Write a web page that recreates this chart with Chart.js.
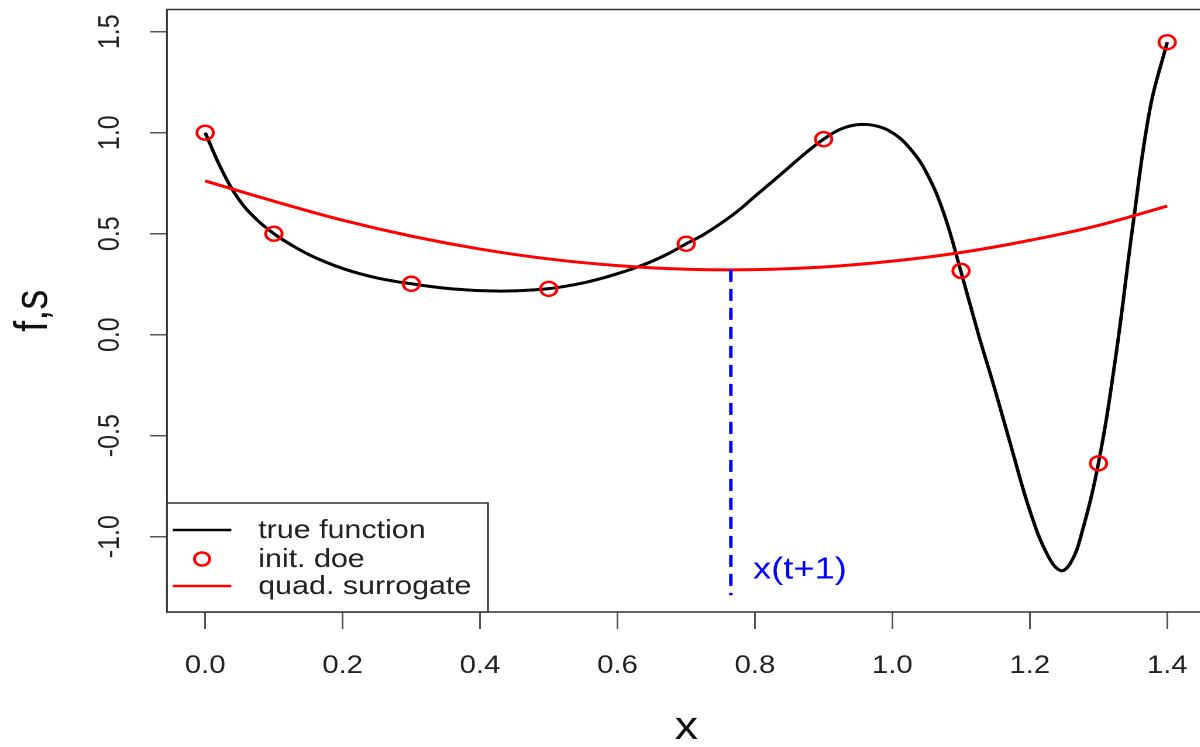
<!DOCTYPE html>
<html>
<head>
<meta charset="utf-8">
<script src="https://cdn.jsdelivr.net/npm/chart.js@4"></script>
<style>
    html, body { margin: 0; padding: 0; background: #fff; overflow: hidden; width: 1200px; height: 747px; }
    /* the reference is stretched horizontally, so the canvas is too */
    #wrap { position: absolute; left: 0; top: 0; width: 1040px; height: 747px; transform: scaleX(1.17); transform-origin: 0 0; }
</style>
</head>
<body>
<div id="wrap"><canvas id="chart"></canvas></div>
<script>
// True function
const trueX = [0, 0.025, 0.05, 0.075, 0.1, 0.125, 0.15, 0.175, 0.2, 0.225, 0.25, 0.275, 0.3, 0.325, 0.35, 0.375, 0.4,
    0.425, 0.45, 0.475, 0.5, 0.525, 0.55, 0.575, 0.6, 0.625, 0.65, 0.675, 0.7, 0.725, 0.75, 0.775, 0.8, 0.825, 0.85,
    0.875, 0.9, 0.925, 0.95, 0.975, 1.0, 1.025, 1.05, 1.075, 1.1, 1.125, 1.15, 1.175, 1.2, 1.225, 1.245, 1.26, 1.275,
    1.3, 1.325, 1.35, 1.375, 1.4];
const trueY = [1.0, 0.81, 0.665, 0.57, 0.5, 0.445, 0.398, 0.36, 0.328, 0.302, 0.281, 0.265, 0.252, 0.24, 0.23, 0.223, 0.218,
    0.216, 0.217, 0.221, 0.228, 0.24, 0.256, 0.277, 0.302, 0.33, 0.363, 0.403, 0.45, 0.495, 0.55, 0.612, 0.685, 0.757, 0.83,
    0.903, 0.968, 1.018, 1.04, 1.035, 1.0, 0.925, 0.8, 0.6, 0.31, 0.005, -0.28, -0.58, -0.87, -1.085, -1.168, -1.126, -0.99,
    -0.635, -0.11, 0.54, 1.12, 1.448];

// Initial design points
const doeX = [0, 0.1, 0.3, 0.5, 0.7, 0.9, 1.1, 1.3, 1.4];
const doeY = [1.0, 0.5, 0.252, 0.227, 0.45, 0.968, 0.316, -0.637, 1.448];

// Quadratic surrogate
const surX = [0, 0.1, 0.2, 0.3, 0.4, 0.5, 0.6, 0.7, 0.8, 0.9, 1.0, 1.1, 1.2, 1.3, 1.4];
const surY = [0.761, 0.661, 0.567, 0.488, 0.424, 0.375, 0.342, 0.324, 0.322, 0.335, 0.364, 0.407, 0.467, 0.541, 0.637];

// Next point x(t+1)
const nextX = [0.765, 0.765];
const nextY = [0.321, -1.29];
const nextLabel = 'x(t+1)';
const nextLabelY = -1.166;

const xTicks = [0, 0.2, 0.4, 0.6, 0.8, 1.0, 1.2, 1.4];
const yTicks = [-1.0, -0.5, 0.0, 0.5, 1.0, 1.5];

const legendLabels = ['true function', 'init. doe', 'quad. surrogate'];

const toPoints = (xs, ys) => xs.map((x, i) => ({x: x, y: ys[i]}));

const FONT = 'Liberation Sans, Arial, Helvetica, sans-serif';

// Box around the plot region
const boxPlugin = {
    id: 'box',
    afterDatasetsDraw(chart) {
        const {ctx, chartArea: a} = chart;
        ctx.save();
        ctx.strokeStyle = '#333';
        ctx.lineWidth = 1.5;
        ctx.strokeRect(a.left, a.top, a.right - a.left, a.bottom - a.top);
        ctx.restore();
    }
};

// Blue text next to the dashed line
const nextLabelPlugin = {
    id: 'nextLabel',
    afterDatasetsDraw(chart) {
        const {ctx, scales} = chart;
        ctx.save();
        ctx.fillStyle = '#0000ff';
        ctx.font = '31px ' + FONT;
        ctx.textBaseline = 'middle';
        ctx.textAlign = 'left';
        ctx.fillText(nextLabel, scales.x.getPixelForValue(nextX[0]) + 19, scales.y.getPixelForValue(nextLabelY));
        ctx.restore();
    }
};

// R style legend at the bottom left corner
const legendPlugin = {
    id: 'rLegend',
    afterDraw(chart) {
        const {ctx, chartArea: a} = chart;
        const left = a.left, bottom = a.bottom;
        const w = 274.4, h = 109;
        ctx.save();
        ctx.fillStyle = '#fff';
        ctx.fillRect(left, bottom - h, w, h);
        ctx.strokeStyle = '#333';
        ctx.lineWidth = 1.5;
        ctx.strokeRect(left, bottom - h, w, h);

        const rows = [bottom - 82, bottom - 53, bottom - 26];
        // black line
        ctx.strokeStyle = '#000';
        ctx.lineWidth = 2.5;
        ctx.beginPath(); ctx.moveTo(left + 5, rows[0]); ctx.lineTo(left + 55, rows[0]); ctx.stroke();
        // red circle
        ctx.strokeStyle = '#ff0000';
        ctx.beginPath(); ctx.arc(left + 30, rows[1], 6.5, 0, Math.PI * 2); ctx.stroke();
        // red line
        ctx.beginPath(); ctx.moveTo(left + 5, rows[2]); ctx.lineTo(left + 55, rows[2]); ctx.stroke();

        ctx.fillStyle = '#222';
        ctx.font = '26px ' + FONT;
        ctx.textBaseline = 'middle';
        ctx.textAlign = 'left';
        for (let i = 0; i < legendLabels.length; i++) {
            ctx.fillText(legendLabels[i], left + 78, rows[i] + 1);
        }
        ctx.restore();
    }
};

const ctx = document.getElementById('chart').getContext('2d');

const chart = new Chart(ctx, {
    type: 'scatter',
    data: {
        datasets: [
            {
                label: 'true function',
                data: toPoints(trueX, trueY),
                showLine: true,
                borderColor: '#000',
                borderWidth: 3,
                pointRadius: 0,
                tension: 0.4,
                order: 3
            },
            {
                label: 'quad. surrogate',
                data: toPoints(surX, surY),
                showLine: true,
                borderColor: '#ff0000',
                borderWidth: 3,
                pointRadius: 0,
                tension: 0.4,
                order: 2
            },
            {
                label: 'x(t+1)',
                data: toPoints(nextX, nextY),
                showLine: true,
                borderColor: '#0000ff',
                borderWidth: 3,
                borderDash: [12, 7],
                pointRadius: 0,
                order: 1
            },
            {
                label: 'init. doe',
                data: toPoints(doeX, doeY),
                showLine: false,
                pointStyle: 'circle',
                pointRadius: 7,
                pointBorderWidth: 2.5,
                pointBorderColor: '#ff0000',
                pointBackgroundColor: 'rgba(0,0,0,0)',
                order: 0
            }
        ]
    },
    options: {
        responsive: true,
        maintainAspectRatio: false,
        animation: false,
        devicePixelRatio: 2,
        layout: {
            padding: {left: 0, right: 4, top: 8, bottom: 0}
        },
        plugins: {
            legend: {display: false},
            tooltip: {enabled: false}
        },
        scales: {
            x: {
                type: 'linear',
                min: -0.0556,
                max: 1.456,
                afterBuildTicks: (scale) => { scale.ticks = xTicks.map(v => ({value: v})); },
                afterFit: (scale) => {
                    scale.height = 135;
                    scale.paddingLeft = 0;
                    scale.paddingRight = 0;
                },
                border: {display: false},
                grid: {
                    drawOnChartArea: false,
                    drawTicks: true,
                    tickLength: 17,
                    color: '#555',
                    lineWidth: 1.5
                },
                ticks: {
                    color: '#222',
                    font: {family: FONT, size: 25},
                    padding: 22,
                    maxRotation: 0,
                    autoSkip: false,
                    callback: (v) => Number(v).toFixed(1)
                },
                title: {
                    display: true,
                    text: 'x',
                    color: '#111',
                    font: {family: FONT, size: 40},
                    padding: {top: 0, bottom: -5}
                }
            },
            y: {
                type: 'linear',
                min: -1.373,
                max: 1.61,
                afterBuildTicks: (scale) => { scale.ticks = yTicks.map(v => ({value: v})); },
                afterFit: (scale) => {
                    scale.width = 142.7;
                    scale.paddingTop = 0;
                    scale.paddingBottom = 0;
                },
                border: {display: false},
                grid: {
                    drawOnChartArea: false,
                    drawTicks: true,
                    tickLength: 14.5,
                    color: '#555',
                    lineWidth: 1.5
                },
                ticks: {
                    color: '#222',
                    font: {family: FONT, size: 25},
                    padding: 12,
                    minRotation: 90,
                    maxRotation: 90,
                    crossAlign: 'center',
                    autoSkip: false,
                    callback: (v) => Number(v).toFixed(1)
                },
                title: {
                    display: true,
                    text: 'f,s',
                    color: '#111',
                    font: {family: FONT, size: 40},
                    padding: {top: 5, bottom: 0}
                }
            }
        }
    },
    plugins: [boxPlugin, nextLabelPlugin, legendPlugin]
});
</script>
</body>
</html>
